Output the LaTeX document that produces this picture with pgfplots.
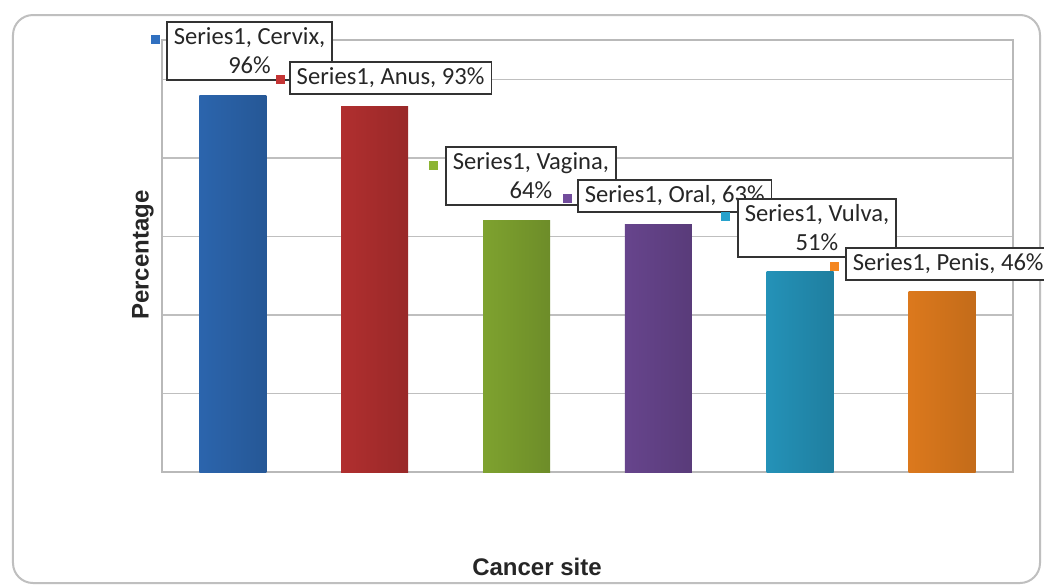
\documentclass[border=0pt]{standalone}
\usepackage{pgfplots}
\pgfplotsset{compat=1.18}
\usepackage{fontspec}
\setmainfont{Carlito}
\newfontfamily\arialfont{Liberation Sans}
\definecolor{cblue}{RGB}{48,112,192}
\definecolor{cred}{RGB}{196,52,52}
\definecolor{cgreen}{RGB}{140,180,52}
\definecolor{cpurple}{RGB}{114,76,156}
\definecolor{ccyan}{RGB}{40,162,204}
\definecolor{corange}{RGB}{244,134,32}
\tikzset{
  lbl/.style={draw=black!80, line width=0.8pt, fill=white, align=center,
    inner xsep=3.5pt, inner ysep=3pt, anchor=north west,
    font=\fontsize{12.3}{14.5}\selectfont, text=black!85},
  mk/.style={rectangle, minimum size=4.5pt, inner sep=0pt},
}
\begin{document}
\begin{tikzpicture}
\clip (-81pt,-57pt) rectangle (441pt,236pt);
\fill[white] (-81pt,-57pt) rectangle (441pt,236pt);
\draw[gray!50, line width=1pt, rounded corners=10pt] (-74.5pt,-55.5pt) rectangle (439pt,228.5pt);
\begin{axis}[at={(0,0)}, anchor=south west, scale only axis,
  width=425.5pt, height=215.9pt,
  xmin=-0.5, xmax=5.5, ymin=0, ymax=110,
  ytick={0,20,...,100}, yticklabels={}, xtick=\empty,
  ymajorgrids, grid style={gray!50, line width=0.8pt},
  axis line style={gray!55, line width=0.8pt},
  major tick length=0pt,
  clip=false, ybar, bar width=33.5pt, bar shift=0pt,
]
\addplot[draw=none, left color=cblue!90!black, middle color=cblue!88!white, right color=cblue!78!black] coordinates {(0,96)};
\addplot[draw=none, left color=cred!90!black, middle color=cred!88!white, right color=cred!78!black] coordinates {(1,93)};
\addplot[draw=none, left color=cgreen!90!black, middle color=cgreen!88!white, right color=cgreen!78!black] coordinates {(2,64)};
\addplot[draw=none, left color=cpurple!90!black, middle color=cpurple!88!white, right color=cpurple!78!black] coordinates {(3,63)};
\addplot[draw=none, left color=ccyan!90!black, middle color=ccyan!88!white, right color=ccyan!78!black] coordinates {(4,51)};
\addplot[draw=none, left color=corange!90!black, middle color=corange!88!white, right color=corange!80!black] coordinates {(5,46)};

\node[lbl] at (axis cs:-0.472,114.9) {Series1, Cervix,\\96\%};
\node[mk, fill=cblue] at (axis cs:-0.549,110.3) {};
\node[lbl] at (axis cs:0.395,104.7) {Series1, Anus, 93\%};
\node[mk, fill=cred] at (axis cs:0.332,99.87) {};
\node[lbl] at (axis cs:1.495,83.06) {Series1, Vagina,\\64\%};
\node[mk, fill=cgreen] at (axis cs:1.411,78.2) {};
\node[lbl] at (axis cs:2.426,74.65) {Series1, Oral, 63\%};
\node[mk, fill=cpurple] at (axis cs:2.356,69.55) {};
\node[lbl] at (axis cs:3.554,69.81) {Series1, Vulva,\\51\%};
\node[mk, fill=ccyan] at (axis cs:3.470,64.97) {};
\node[lbl] at (axis cs:4.316,57.32) {Series1, Penis, 46\%};
\node[mk, fill=corange] at (axis cs:4.245,52.48) {};
\end{axis}
\node[font=\arialfont\bfseries\fontsize{12}{14}\selectfont, text=black!85] at (187.5pt,-47.5pt) {Cancer site};
\node[font=\arialfont\bfseries\fontsize{12}{14}\selectfont, text=black!85, rotate=90] at (-9.5pt,108.5pt) {Percentage};
\end{tikzpicture}
\end{document}
